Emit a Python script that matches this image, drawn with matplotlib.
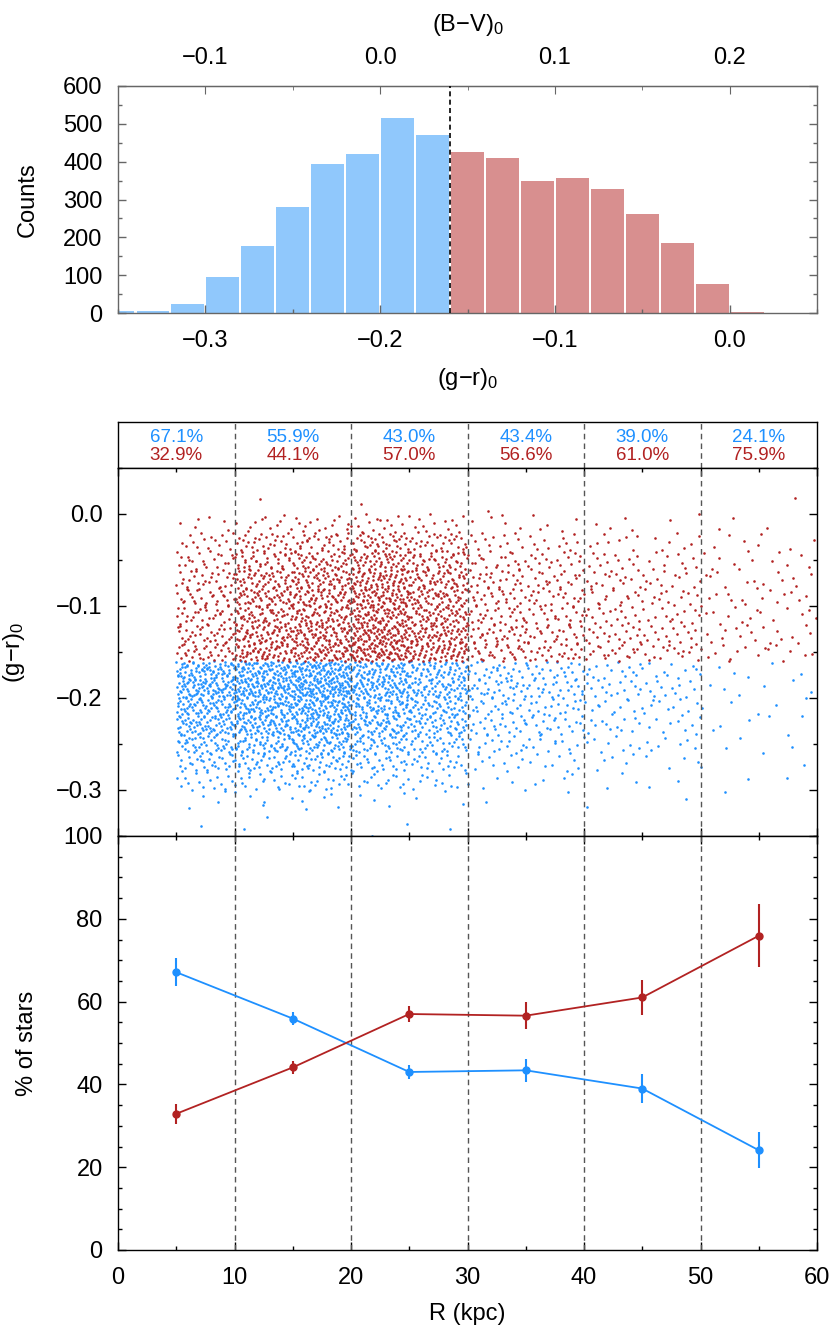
import numpy as np
import matplotlib
matplotlib.use('Agg')
import matplotlib.pyplot as plt

plt.rcParams['font.family'] = ['Liberation Sans', 'DejaVu Sans']
plt.rcParams['mathtext.fontset'] = 'custom'
plt.rcParams['mathtext.rm'] = 'Liberation Sans'
plt.rcParams['mathtext.it'] = 'Liberation Sans'
plt.rcParams['font.size'] = 17

BLUE = '#1e90ff'
RED = '#b22222'
BAR_BLUE = '#90c8fc'
BAR_RED = '#d88f8f'

# histogram of (g-r)_0, bins of 0.02
bin_lo = [-0.36, -0.34, -0.32, -0.30, -0.28, -0.26, -0.24, -0.22, -0.20, -0.18,
          -0.16, -0.14, -0.12, -0.10, -0.08, -0.06, -0.04, -0.02, 0.00, 0.02]
counts = [6, 4, 24, 96, 178, 279, 394, 420, 515, 470,
          426, 409, 349, 356, 329, 261, 185, 77, 3, 1]
color_cut = -0.16

# radial bins and fractions
r_mid = [5, 15, 25, 35, 45, 55]
pct_blue = [67.1, 55.9, 43.0, 43.4, 39.0, 24.1]
pct_red = [32.9, 44.1, 57.0, 56.6, 61.0, 75.9]
err_blue = [3.4, 1.5, 1.6, 2.8, 3.5, 4.4]
err_red = [2.4, 1.6, 2.0, 3.2, 4.3, 7.6]
r_lines = [10, 20, 30, 40, 50]

# star counts per cell of the scatter panel (rows: R from 5 to 60 in 5 kpc, cols: colour bins above)
r_lo = [5, 10, 15, 20, 25, 30, 35, 40, 45, 50, 55]
cell_counts = [
    [1, 1, 4, 16, 29, 45, 64, 68, 83, 76, 34, 32, 28, 28, 26, 21, 15, 6, 0, 0],
    [1, 1, 5, 18, 33, 52, 74, 79, 96, 88, 63, 60, 51, 52, 48, 38, 27, 11, 1, 0],
    [1, 1, 5, 20, 38, 59, 83, 89, 109, 99, 71, 68, 58, 59, 55, 43, 31, 13, 0, 0],
    [1, 1, 4, 15, 27, 43, 60, 64, 79, 72, 86, 83, 71, 72, 66, 53, 37, 16, 1, 0],
    [1, 0, 3, 11, 21, 33, 46, 49, 60, 55, 66, 63, 54, 55, 51, 40, 29, 12, 0, 0],
    [0, 0, 1, 5, 10, 15, 21, 23, 28, 26, 30, 29, 25, 25, 23, 19, 13, 5, 1, 0],
    [0, 0, 1, 4, 8, 13, 18, 19, 24, 22, 25, 24, 21, 21, 20, 16, 11, 5, 0, 0],
    [0, 0, 1, 3, 5, 8, 12, 12, 15, 14, 20, 19, 16, 16, 15, 12, 8, 4, 0, 0],
    [0, 0, 1, 2, 4, 7, 9, 10, 12, 11, 16, 15, 13, 13, 12, 10, 7, 2, 0, 0],
    [0, 0, 1, 1, 1, 2, 3, 3, 3, 3, 9, 9, 8, 8, 7, 6, 4, 2, 0, 0],
    [0, 0, 0, 1, 1, 2, 2, 3, 3, 2, 8, 7, 6, 7, 6, 5, 3, 1, 1, 0],
]


def halton(idx, base):
    # van der Corput radical inverse, used to lay the stars out inside a cell
    out = np.zeros(len(idx))
    f = 1.0 / base
    idx = np.array(idx)
    while np.any(idx > 0):
        out += f * (idx % base)
        idx = idx // base
        f /= base
    return out


xs, ys = [], []
for i, r0 in enumerate(r_lo):
    for j, c0 in enumerate(bin_lo):
        n = cell_counts[i][j]
        k = np.arange(n) + 1 + 211 * i + 53 * j
        xs.append(r0 + 5 * halton(k, 2))
        ys.append(c0 + 0.02 * halton(k, 3))
xs = np.concatenate(xs)
ys = np.concatenate(ys)

fig = plt.figure(figsize=(8.3, 13.26), dpi=100)
L, W = 118 / 830, 699 / 830
H = 1326
ax_h = fig.add_axes([L, 1 - 313 / H, W, 227 / H])
ax_t = fig.add_axes([L, 1 - 468 / H, W, 46 / H])
ax_s = fig.add_axes([L, 1 - 836 / H, W, 368 / H])
ax_p = fig.add_axes([L, 1 - 1250 / H, W, 414 / H])


def style(ax, color='black'):
    ax.tick_params(which='both', direction='in', top=True, right=True, color=color)
    ax.tick_params(which='major', length=6, width=1)
    ax.tick_params(which='minor', length=3, width=1)
    ax.tick_params(axis='x', pad=12)
    ax.tick_params(axis='y', pad=11)
    for sp in ax.spines.values():
        sp.set_color(color)
        sp.set_linewidth(1)


# --- histogram
bar_cols = [BAR_BLUE if b < color_cut else BAR_RED for b in bin_lo]
ax_h.bar(np.array(bin_lo) + 0.0006, counts, width=0.0188, align='edge', color=bar_cols,
         linewidth=0, zorder=1)
ax_h.axvline(color_cut, color='black', ls=(0, (3, 2)), lw=1.2, zorder=3)
ax_h.set_xlim(-0.35, 0.05)
ax_h.set_ylim(0, 600)
ax_h.set_xticks([-0.3, -0.2, -0.1, 0.0])
ax_h.set_xticks(np.arange(-0.35, 0.051, 0.05), minor=True)
ax_h.set_yticks(np.arange(0, 601, 100))
ax_h.set_yticks(np.arange(0, 601, 50), minor=True)
ax_h.set_xticklabels(['\u22120.3', '\u22120.2', '\u22120.1', '0.0'])
style(ax_h, '#666666')
ax_h.tick_params(top=False, which='both')
ax_h.set_xlabel('(g\u2212r)$_0$', labelpad=10)
ax_h.set_ylabel('Counts')
ax_h.yaxis.set_label_coords(-0.114, 0.5)

sec = ax_h.secondary_xaxis('top', functions=(lambda x: x + 0.2, lambda x: x - 0.2))
sec.set_xticks([-0.1, 0.0, 0.1, 0.2])
sec.set_xticks(np.arange(-0.15, 0.251, 0.05), minor=True)
sec.set_xticklabels(['\u22120.1', '0.0', '0.1', '0.2'])
sec.tick_params(which='both', direction='in', color='#666666', pad=12)
sec.tick_params(which='major', length=6)
sec.tick_params(which='minor', length=3)
sec.spines['top'].set_color('#666666')
sec.set_xlabel('(B\u2212V)$_0$', labelpad=12)

# --- percentage strip
ax_t.set_xlim(0, 60)
ax_t.set_ylim(0, 1)
ax_t.set_xticks([])
ax_t.set_yticks([])
for r in r_lines:
    ax_t.axvline(r, color='#555555', ls=(0, (4, 3)), lw=1)
for r, pb, pr in zip(r_mid, pct_blue, pct_red):
    ax_t.text(r, 0.67, f'{pb:.1f}%', color=BLUE, ha='center', va='center', fontsize=13.5)
    ax_t.text(r, 0.27, f'{pr:.1f}%', color=RED, ha='center', va='center', fontsize=13.5)
for sp in ax_t.spines.values():
    sp.set_linewidth(1)

# --- scatter
blue_pts = ys < color_cut
ax_s.scatter(xs[blue_pts], ys[blue_pts], s=3.5, color=BLUE, linewidths=0)
ax_s.scatter(xs[~blue_pts], ys[~blue_pts], s=3.5, color=RED, linewidths=0)
for r in r_lines:
    ax_s.axvline(r, color='#555555', ls=(0, (4, 3)), lw=1)
ax_s.set_xlim(0, 60)
ax_s.set_ylim(-0.35, 0.05)
ax_s.set_yticks([-0.3, -0.2, -0.1, 0.0])
ax_s.set_yticklabels(['\u22120.3', '\u22120.2', '\u22120.1', '0.0'])
ax_s.set_yticks(np.arange(-0.35, 0.051, 0.05), minor=True)
ax_s.set_xticks(np.arange(0, 61, 10))
ax_s.set_xticks(np.arange(0, 61, 5), minor=True)
ax_s.set_xticklabels([])
style(ax_s)
ax_s.set_ylabel('(g\u2212r)$_0$')
ax_s.yaxis.set_label_coords(-0.130, 0.5)

# --- fractions vs R
for r in r_lines:
    ax_p.axvline(r, color='#555555', ls=(0, (4, 3)), lw=1)
ax_p.errorbar(r_mid, pct_blue, yerr=err_blue, fmt='-o', color=BLUE, ms=5,
              lw=1.3, elinewidth=1.5, capsize=0)
ax_p.errorbar(r_mid, pct_red, yerr=err_red, fmt='-o', color=RED, ms=5,
              lw=1.3, elinewidth=1.5, capsize=0)
ax_p.set_xlim(0, 60)
ax_p.set_ylim(0, 100)
ax_p.set_xticks(np.arange(0, 61, 10))
ax_p.set_xticks(np.arange(0, 61, 5), minor=True)
ax_p.set_yticks(np.arange(0, 101, 20))
ax_p.set_yticks(np.arange(0, 101, 5), minor=True)
style(ax_p)
ax_p.set_xlabel('R (kpc)', labelpad=10)
ax_p.set_ylabel('% of stars')
ax_p.yaxis.set_label_coords(-0.114, 0.5)

fig.savefig('out.png', dpi=100)
